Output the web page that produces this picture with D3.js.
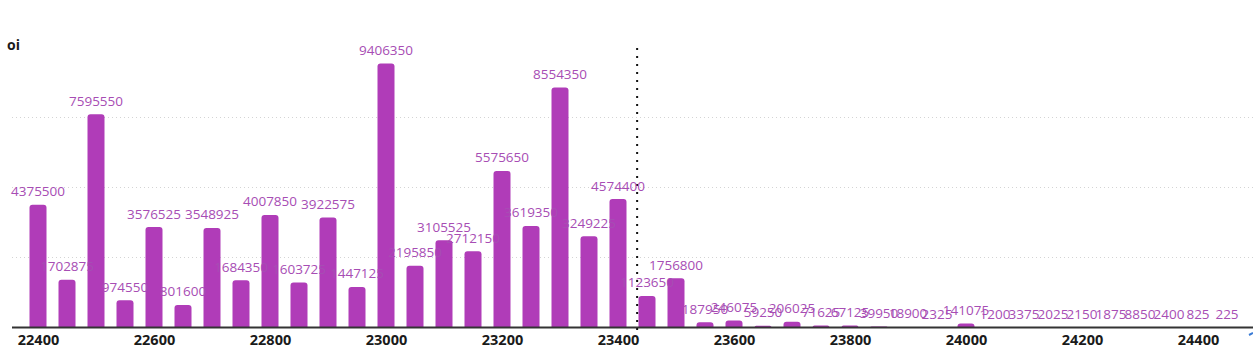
<!DOCTYPE html>
<html>
<head>
<meta charset="utf-8">
<script src="https://cdn.jsdelivr.net/npm/d3@7"></script>
<style>
  html, body { margin: 0; padding: 0; background: #fff; }
  svg { display: block; }
</style>
</head>
<body>
<svg id="chart" width="1253" height="349"></svg>
<script>
// ---- data ----
const strikes = [22400,22450,22500,22550,22600,22650,22700,22750,22800,22850,22900,22950,
  23000,23050,23100,23150,23200,23250,23300,23350,23400,23450,23500,23550,23600,23650,
  23700,23750,23800,23850,23900,23950,24000,24050,24100,24150,24200,24250,24300,24350,24400,24450];
const oi = [4375500,1702875,7595550,974550,3576525,801600,3548925,1684350,4007850,1603725,3922575,1447125,
  9406350,2195850,3105525,2712150,5575650,3619350,8554350,3249225,4574400,1123650,1756800,187950,246075,59250,
  206025,71625,67125,39950,18900,2325,141075,1200,3375,2025,2150,1875,8850,2400,825,225];
const xTicks = [22400,22600,22800,23000,23200,23400,23600,23800,24000,24200,24400];
const yGrid = [2500000,5000000,7500000];
const spot = [23433];
const yTitle = "oi";

// ---- layout ----
const svg = d3.select("#chart");
const plotLeft = 12, plotRight = 1253, baseY = 327.5, topY = 46.8;
const x = d3.scaleLinear().domain([22400, 24400]).range([38, 1198]);
const y = d3.scaleLinear().domain([0, 10000000]).range([baseY, topY]);
const barW = 17;
const barColor = "#b03cb8";
const labelColor = "#a74db4";
const font = "'Open Sans', 'Noto Sans', sans-serif";

// grid
svg.append("g").selectAll("line").data(yGrid).join("line")
  .attr("x1", plotLeft).attr("x2", plotRight)
  .attr("y1", d => Math.round(y(d)) + 0.5).attr("y2", d => Math.round(y(d)) + 0.5)
  .attr("stroke", "#d4d4d4").attr("stroke-width", 1).attr("stroke-dasharray", "1,3");

// bars (rounded top)
function barPath(cx, top, bottom, w, r) {
  const l = cx - w/2, rr = Math.min(r, (bottom - top), w/2);
  if (bottom - top <= 0) return "";
  return `M${l},${bottom}L${l},${top+rr}Q${l},${top} ${l+rr},${top}L${l+w-rr},${top}Q${l+w},${top} ${l+w},${top+rr}L${l+w},${bottom}Z`;
}
svg.append("g").selectAll("path").data(strikes).join("path")
  .attr("d", (d, i) => barPath(x(d), y(oi[i]), baseY, barW, 3))
  .attr("fill", barColor);

// axis
const axis = d3.axisBottom(x).tickValues(xTicks).tickSize(0).tickPadding(7).tickFormat(d3.format("d"));
const ax = svg.append("g").attr("transform", `translate(0,${baseY})`).call(axis);
ax.select(".domain").remove();
ax.selectAll("text").attr("font-family", font).attr("font-size", 14.5).attr("font-weight", 700).attr("fill", "#1a1a1a");
svg.append("line").attr("x1", plotLeft).attr("x2", plotRight).attr("y1", baseY).attr("y2", baseY)
  .attr("stroke", "#333").attr("stroke-width", 2);

// spot dotted line
svg.append("g").selectAll("line").data(spot).join("line")
  .attr("x1", d => x(d)).attr("x2", d => x(d))
  .attr("y1", 48).attr("y2", baseY + 6)
  .attr("stroke", "#111").attr("stroke-width", 2).attr("stroke-dasharray", "2,6");

// data labels
svg.append("g").selectAll("text").data(strikes).join("text")
  .attr("x", d => x(d))
  .attr("y", (d, i) => y(oi[i]) - 8.5)
  .attr("text-anchor", "middle")
  .attr("font-family", font).attr("font-size", 13.5)
  .attr("fill", labelColor)
  .text((d, i) => oi[i]);

// y title
svg.append("text").attr("x", 7).attr("y", 50)
  .attr("font-family", font).attr("font-size", 14).attr("font-weight", 700).attr("fill", "#1a1a1a")
  .text(yTitle);

// small blue mark at right edge
svg.append("line").attr("x1", 1249).attr("x2", 1253).attr("y1", 335).attr("y2", 333)
  .attr("stroke", "#3a7bd5").attr("stroke-width", 2);
</script>
</body>
</html>
